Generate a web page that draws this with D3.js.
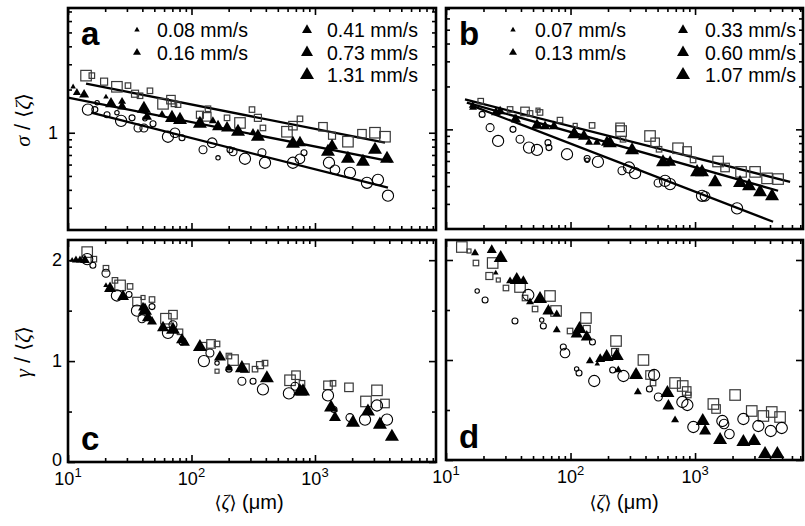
<!DOCTYPE html>
<html>
<head>
<meta charset="utf-8">
<script src="https://cdn.jsdelivr.net/npm/d3@7/dist/d3.min.js"></script>
<style>
body{margin:0;background:#fff}
text{font-family:"Liberation Sans",Arial,Helvetica,sans-serif;fill:#000}
</style>
</head>
<body>
<svg id="chart" width="805" height="526"></svg>
<script>
/* global d3 */

// speed labels (legend), index = marker size
var speedsA = ["0.08 mm/s", "0.16 mm/s", "0.41 mm/s", "0.73 mm/s", "1.31 mm/s"];
var speedsB = ["0.07 mm/s", "0.13 mm/s", "0.33 mm/s", "0.60 mm/s", "1.07 mm/s"];

// points: [<zeta> (um), value, speed index]
// panel a : sigma/<zeta>
var aSquares = [[14.0,2.50,4],[15.6,2.50,1],[19.6,2.27,2],[24.9,2.09,4],[30.6,2.13,1],[34.9,1.87,2],[38.3,1.81,1],[46.1,1.96,1],
  [58.8,1.59,4],[68.2,1.70,3],[72.1,1.59,1],[77.8,1.57,1],[117,1.335,2],[136,1.47,1],[133,1.29,3],[194,1.27,1],[247,1.17,4],
  [309,1.45,1],[345,1.27,2],[379,1.08,1],[593,1.016,4],[663,1.12,3],[756,1.25,1],[1161,1.10,3],[1374,0.953,2],[1849,0.866,4],
  [2402,0.984,3],[3062,1.0,4],[3690,0.938,4]];
var aTriangles = [[11.0,2.09,0],[11.8,1.90,1],[13.5,1.84,2],[20.3,1.78,0],[22.3,1.59,3],[27.4,1.65,1],[27.4,1.52,2],[41.2,1.47,4],
  [43.6,1.29,2],[57.7,1.335,1],[69.5,1.27,4],[80.7,1.23,4],[117,1.155,4],[149,1.21,1],[164,1.10,3],[194,1.08,3],[238,1.016,4],
  [315,1.0,1],[345,0.938,4],[663,0.838,4],[756,0.852,3],[1274,0.737,4],[1374,0.811,3],[1849,0.659,4],[2447,0.628,4],
  [3062,0.761,4],[3830,0.659,4]];
var aCircles = [[14.5,1.45,4],[16.5,1.45,1],[17.2,1.62,0],[20.7,1.335,1],[24.9,1.38,0],[26.9,1.21,4],[33.0,1.27,1],[36.9,1.08,2],
  [41.2,1.08,2],[42.0,1.25,0],[48.8,1.155,1],[64.5,0.938,4],[73.5,1.0,3],[83.8,0.923,1],[124,0.761,2],[147,0.852,3],[164,0.669,0],
  [205,0.761,1],[217,0.737,2],[271,0.659,4],[372,0.725,2],[394,0.618,4],[663,0.618,4],[756,0.659,3],[815,0.725,1],[1298,0.618,4],
  [1452,0.552,3],[1920,0.526,4],[2636,0.448,4],[3236,0.470,4],[3900,0.364,4]];
// power-law fits, endpoints
var aFitSquares = [[14.0,2.20],[3690,0.852]];
var aFitTriangles = [[10,1.755],[4198,0.628]];
var aFitCircles = [[15.4,1.38],[3900,0.414]];

// panel b : sigma/<zeta>
var bSquares = [[19.0,1.576,1],[32.7,1.379,1],[43.1,1.336,3],[47.3,1.293,1],[54.8,1.364,0],[56.9,1.314,1],[82.3,1.161,1],
  [109,1.066,0],[149,1.066,1],[250,1.033,3],[255,0.973,4],[264,0.852,1],[435,0.898,4],[478,0.811,3],[514,0.725,1],[730,0.737,4],
  [863,0.705,3],[964,0.610,1],[1531,0.595,4],[1742,0.540,3],[2340,0.503,4],[3034,0.503,4],[3786,0.453,4],[4645,0.448,4]];
var bTriangles = [[16.4,1.47,1],[16.5,1.424,1],[25.2,1.314,2],[27.2,1.336,2],[35.8,1.193,1],[36.5,1.17,2],[53.8,1.066,3],
  [62.4,1.049,2],[73.6,1.049,2],[107,0.923,4],[128,0.894,3],[141,0.811,1],[163,0.811,1],[196,0.811,3],[207,0.798,4],
  [312,0.714,4],[553,0.588,4],[630,0.588,3],[1038,0.501,4],[1138,0.501,4],[1448,0.426,4],[2297,0.420,4],[2714,0.400,4],
  [3327,0.363,4],[4152,0.340,4]];
var bCircles = [[19.5,1.273,1],[22.6,1.028,2],[26.2,0.829,4],[34.5,1.0,1],[39.3,0.852,2],[46.4,0.745,4],[53.8,0.717,4],
  [65.9,0.807,1],[67.1,0.745,1],[93.7,0.669,4],[136,0.624,1],[136,0.607,0],[166,0.591,4],[259,0.512,2],[295,0.540,4],
  [330,0.493,4],[505,0.420,2],[574,0.435,4],[630,0.413,4],[1138,0.342,4],[1203,0.339,3],[2175,0.279,4]];
var bFitSquares = [[14.2,1.62],[5797,0.428]];
var bFitTriangles = [[14.7,1.54],[4645,0.371]];
var bFitCircles = [[16.5,1.455],[4232,0.225]];

// panel c : gamma/<zeta>
var cSquares = [[14.3,2.08,4],[16.2,2.01,1],[20.3,1.92,1],[24.0,1.80,1],[26.4,1.75,4],[31.8,1.74,1],[36.2,1.59,3],[40.5,1.63,0],
  [47.9,1.61,1],[62.1,1.42,4],[70.8,1.46,3],[80.7,1.29,1],[124,1.15,2],[144,1.17,3],[161,1.17,1],[161,0.90,0],[201,1.05,1],
  [217,1.01,4],[271,0.93,3],[327,0.92,1],[359,0.96,2],[394,0.98,1],[628,0.81,4],[702,0.86,3],[785,0.78,1],[1274,0.76,3],
  [1400,0.78,1],[1884,0.74,3],[2588,0.60,4],[3177,0.71,4],[3690,0.58,3]];
var cTriangles = [[10.8,2.0,0],[11.6,2.0,1],[12.5,2.0,1],[13.7,2.0,2],[20.3,1.75,0],[21.9,1.72,3],[27.9,1.64,3],[40.5,1.53,2],
  [42.0,1.50,4],[44.4,1.43,3],[47.9,1.39,2],[58.8,1.33,3],[70.8,1.31,4],[83.8,1.21,3],[88.5,1.18,2],[117,1.14,4],[170,1.04,3],
  [201,0.93,1],[256,0.93,4],[408,0.83,4],[756,0.70,4],[800,0.70,4],[1349,0.54,4],[1452,0.44,3],[2031,0.39,4],[2685,0.50,4],
  [3357,0.37,4],[4198,0.25,4]];
var cCircles = [[14.3,2.01,4],[15.9,1.95,1],[20.3,1.87,2],[24.9,1.65,4],[31.2,1.66,1],[36.2,1.50,4],[39.7,1.42,2],[47.9,1.54,1],
  [64.5,1.28,4],[70.8,1.36,2],[83.8,1.19,1],[126,1.00,4],[141,1.08,2],[161,0.98,0],[201,0.92,1],[256,0.80,2],[315,0.80,1],
  [379,0.72,4],[615,0.68,4],[689,0.75,2],[1274,0.66,4],[1426,0.52,1],[1920,0.44,2],[2542,0.42,4],[3177,0.56,4],[3830,0.42,4]];

// panel d : gamma/<zeta>
var dSquares = [[13.4,2.13,4],[15.3,2.09,0],[17.4,1.97,1],[23.7,1.97,4],[22.3,1.84,2],[26.3,1.80,0],[30.3,1.72,1],[39.3,1.73,4],
  [43.1,1.62,1],[51.9,1.51,1],[68.4,1.64,4],[76.5,1.49,4],[99.1,1.29,1],[133,1.42,4],[135,1.31,2],[232,1.19,4],[228,1.08,2],
  [385,1.00,4],[435,0.85,3],[460,0.77,1],[691,0.77,4],[796,0.74,4],[857,0.69,3],[883,0.65,1],[1403,0.56,4],[1475,0.51,3],
  [2096,0.65,4],[2853,0.49,4],[3537,0.44,4],[4130,0.48,4],[4816,0.43,4]];
var dTriangles = [[17.1,2.07,1],[23.3,2.10,2],[27.5,2.02,4],[25.1,1.87,0],[32.7,1.79,1],[37.0,1.80,4],[41.8,1.79,2],[47.3,1.58,1],
  [56.9,1.61,4],[66.4,1.49,3],[77.5,1.46,1],[77.5,1.30,1],[118,1.31,4],[112,1.26,3],[135,1.23,3],[143,0.99,1],[164,0.96,0],
  [173,1.01,2],[195,1.03,4],[235,1.04,4],[242,0.90,1],[336,0.85,4],[347,0.68,1],[600,0.67,4],[611,0.54,3],[691,0.40,1],
  [1153,0.39,4],[1204,0.29,3],[1589,0.20,4],[2444,0.18,4],[2978,0.19,4],[3648,0.06,4],[4581,0.06,4]];
var dCircles = [[17.8,1.69,0],[20.6,1.60,1],[35.8,1.39,1],[45.8,1.65,4],[58.7,1.40,0],[60.5,1.34,1],[87.5,1.13,1],[90.3,1.07,3],
  [112,0.91,0],[117,0.87,1],[155,0.79,4],[150,1.18,1],[218,0.90,1],[266,0.84,4],[430,0.71,1],[469,0.85,4],[507,0.63,2],
  [791,0.58,4],[867,0.55,4],[969,0.33,4],[1657,0.39,4],[1710,0.36,3],[1888,0.26,3],[2444,0.41,4],[3223,0.34,4],[4055,0.29,4],
  [4970,0.32,4]];

var svg = d3.select('#chart');

var sqSide = [4, 5.5, 7, 8.5, 10.5];
var circR = [2.2, 3, 4, 4.8, 5.6];
var triSide = [5.5, 8, 10, 12, 14];
function triPath(i){
  var s = triSide[i];
  return d3.symbol().type(d3.symbolTriangle).size(Math.sqrt(3) / 4 * s * s)();
}

var panels = [
  {name:'a', left:68, right:436, top:8, bottom:230, xMax:9550, log:true, yDomain:[0.21, 7.4],
   sq:aSquares, tri:aTriangles, ci:aCircles, fits:[aFitSquares, aFitTriangles, aFitCircles], legend:speedsA,
   legX:[137, 307], yLabels:true, xLabels:false},
  {name:'b', left:446, right:803, top:8, bottom:229, xMax:7360, log:true, yDomain:[0.2, 7.1],
   sq:bSquares, tri:bTriangles, ci:bCircles, fits:[bFitSquares, bFitTriangles, bFitCircles], legend:speedsB,
   legX:[513, 683], yLabels:false, xLabels:false},
  {name:'c', left:68, right:436, top:240, bottom:462, xMax:9550, log:false, yDomain:[0, 2.2],
   sq:cSquares, tri:cTriangles, ci:cCircles, fits:[], legend:null, yLabels:true, xLabels:true},
  {name:'d', left:446, right:803, top:240, bottom:460, xMax:7360, log:false, yDomain:[0, 2.2],
   sq:dSquares, tri:dTriangles, ci:dCircles, fits:[], legend:null, yLabels:false, xLabels:true}
];

panels.forEach(function(p){
  var x = d3.scaleLog().domain([10, p.xMax]).range([p.left, p.right]);
  var y = p.log ? d3.scaleLog().domain(p.yDomain).range([p.bottom, p.top])
                : d3.scaleLinear().domain(p.yDomain).range([p.bottom, p.top]);
  var g = svg.append('g').attr('class', 'panel-' + p.name);

  var inX = function(v){ return v >= 10 && v <= p.xMax; };
  var xMajor = [10, 100, 1000, 10000].filter(inX);
  var xMinor = [];
  [10, 100, 1000].forEach(function(d){ for (var k = 2; k < 10; k++) xMinor.push(d * k); });
  xMinor = xMinor.filter(inX);

  var yMajor, yMinor;
  if (p.log) {
    yMajor = [1];
    yMinor = [0.3,0.4,0.5,0.6,0.7,0.8,0.9,2,3,4,5,6,7].filter(function(v){ return v > p.yDomain[0] && v < p.yDomain[1]; });
  } else {
    yMajor = [0, 1, 2];
    yMinor = [0.5, 1.5];
  }

  function tickGroup(axis, tr){
    g.append('g').attr('transform', tr).call(axis)
      .call(function(s){ s.select('.domain').remove(); s.selectAll('line').attr('stroke', '#000').attr('stroke-width', 1.6); });
  }
  [[xMajor, 7], [xMinor, 4]].forEach(function(t){
    tickGroup(d3.axisBottom(x).tickValues(t[0]).tickSize(-t[1]).tickFormat(''), 'translate(0,' + p.bottom + ')');
    tickGroup(d3.axisTop(x).tickValues(t[0]).tickSize(-t[1]).tickFormat(''), 'translate(0,' + p.top + ')');
  });
  [[yMajor, 7], [yMinor, 4]].forEach(function(t){
    tickGroup(d3.axisLeft(y).tickValues(t[0]).tickSize(-t[1]).tickFormat(''), 'translate(' + p.left + ',0)');
    tickGroup(d3.axisRight(y).tickValues(t[0]).tickSize(-t[1]).tickFormat(''), 'translate(' + p.right + ',0)');
  });

  g.append('rect')
    .attr('x', p.left).attr('y', p.top)
    .attr('width', p.right - p.left).attr('height', p.bottom - p.top)
    .attr('fill', 'none').attr('stroke', '#000').attr('stroke-width', 2.6);

  if (p.yLabels) {
    g.selectAll('.ylab').data(yMajor).enter().append('text')
      .attr('x', p.log ? p.left - 10 : p.left - 6)
      .attr('y', function(d){ return y(d) + (d === 0 ? 4 : 6); })
      .attr('text-anchor', 'end').attr('font-size', 18)
      .text(function(d){ return d; });
  }
  if (p.xLabels) {
    var lab = g.selectAll('.xlab').data(xMajor).enter().append('text')
      .attr('x', function(d){ return x(d); })
      .attr('y', p.bottom + 23)
      .attr('text-anchor', 'middle').attr('font-size', 18);
    lab.append('tspan').text('10');
    lab.append('tspan').attr('dy', -8).attr('font-size', 13)
      .text(function(d){ return Math.round(Math.log10(d)); });
  }

  // fit lines
  var line = d3.line().x(function(d){ return x(d[0]); }).y(function(d){ return y(d[1]); });
  p.fits.forEach(function(f){
    g.append('path').attr('d', line(f)).attr('fill', 'none').attr('stroke', '#000').attr('stroke-width', 2.3);
  });

  // squares
  g.selectAll('.sq').data(p.sq).enter().append('rect')
    .attr('x', function(d){ return x(d[0]) - sqSide[d[2]] / 2; })
    .attr('y', function(d){ return y(d[1]) - sqSide[d[2]] / 2; })
    .attr('width', function(d){ return sqSide[d[2]]; })
    .attr('height', function(d){ return sqSide[d[2]]; })
    .attr('fill', 'none').attr('stroke', '#3a3a3a').attr('stroke-width', 1.2);
  // circles
  g.selectAll('.ci').data(p.ci).enter().append('circle')
    .attr('cx', function(d){ return x(d[0]); })
    .attr('cy', function(d){ return y(d[1]); })
    .attr('r', function(d){ return circR[d[2]]; })
    .attr('fill', 'none').attr('stroke', '#000').attr('stroke-width', 1.1);
  // triangles
  g.selectAll('.tri').data(p.tri).enter().append('path')
    .attr('transform', function(d){ return 'translate(' + x(d[0]) + ',' + y(d[1]) + ')'; })
    .attr('d', function(d){ return triPath(d[2]); })
    .attr('fill', '#000');

  // panel letter
  g.append('text')
    .attr('x', p.left + 13).attr('y', p.name === 'a' || p.name === 'b' ? p.top + 37 : p.bottom - 12)
    .attr('font-size', 33).attr('font-weight', 'bold')
    .text(p.name);

  // legend
  if (p.legend) {
    var rows = [[0,0,0],[1,0,1],[2,1,0],[3,1,1],[4,1,2]];
    var lg = g.selectAll('.leg').data(rows).enter().append('g')
      .attr('transform', function(r){ return 'translate(' + p.legX[r[1]] + ',' + (p.top + 22 + r[2] * 22.5) + ')'; });
    lg.append('path').attr('d', function(r){ return triPath(r[0]); }).attr('fill', '#000');
    lg.append('text').attr('x', p.name === 'a' ? 20 : 22).attr('y', 7).attr('font-size', 19.5)
      .text(function(r){ return p.legend[r[0]]; });
  }
});

// axis titles
var serif = '"Liberation Serif","DejaVu Serif",serif';
function yTitle(cx, cy, greek){
  var t = svg.append('text').attr('transform', 'translate(' + cx + ',' + cy + ') rotate(-90)')
    .attr('text-anchor', 'middle').attr('font-size', 22);
  t.append('tspan').attr('font-family', serif).attr('font-style', 'italic').text(greek);
  t.append('tspan').text(' / ');
  t.append('tspan').attr('font-family', '"DejaVu Sans"').attr('font-size', 20).text('\u27E8');
  t.append('tspan').attr('font-family', serif).attr('font-style', 'italic').text('\u03B6');
  t.append('tspan').attr('font-family', '"DejaVu Sans"').attr('font-size', 20).text('\u27E9');
}
yTitle(30, 120, '\u03C3');
yTitle(30, 352, '\u03B3');

function xTitle(cx){
  var t = svg.append('text').attr('x', cx).attr('y', 509).attr('text-anchor', 'middle').attr('font-size', 20);
  t.append('tspan').attr('font-family', '"DejaVu Sans"').attr('font-size', 18).text('\u27E8');
  t.append('tspan').attr('font-family', serif).attr('font-style', 'italic').text('\u03B6');
  t.append('tspan').attr('font-family', '"DejaVu Sans"').attr('font-size', 18).text('\u27E9');
  t.append('tspan').text(' (\u03BCm)');
}
xTitle(249);
xTitle(624);
</script>
</body>
</html>
